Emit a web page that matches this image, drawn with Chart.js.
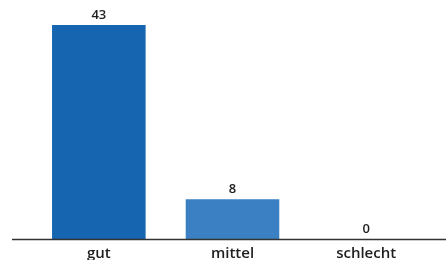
<!DOCTYPE html>
<html lang="de">
<head>
    <meta charset="UTF-8">
    <title>Bewertung</title>
    <style>
        body {
            margin: 0;
            background-color: #ffffff;
        }
        #wrap {
            width: 446px;
            height: 261px;
        }
    </style>
</head>
<body>
    <div id="wrap"><canvas id="chart"></canvas></div>

    <script src="https://cdn.jsdelivr.net/npm/chart.js"></script>
    <script>
        const categories = ['gut', 'mittel', 'schlecht'];
        const values = [43, 8, 0];
        const barColors = ['#1565b0', '#3b80c2', '#5a98d0'];

        // Werte über den Balken + durchgehende Grundlinie
        const extras = {
            id: 'extras',
            afterDatasetsDraw(chart) {
                const ctx = chart.ctx;
                const bottom = chart.chartArea.bottom;
                ctx.save();
                ctx.strokeStyle = '#333333';
                ctx.lineWidth = 1.5;
                ctx.beginPath();
                ctx.moveTo(12, bottom + 0.5);
                ctx.lineTo(chart.width, bottom + 0.5);
                ctx.stroke();

                ctx.fillStyle = '#1e1e1e';
                ctx.font = '600 13px "Open Sans", sans-serif';
                ctx.textAlign = 'center';
                ctx.textBaseline = 'bottom';
                chart.getDatasetMeta(0).data.forEach((bar, i) => {
                    ctx.fillText(values[i], bar.x, bar.y - 3);
                });
                ctx.restore();
            }
        };

        new Chart(document.getElementById('chart'), {
            type: 'bar',
            data: {
                labels: categories,
                datasets: [{
                    data: values,
                    backgroundColor: barColors,
                    categoryPercentage: 0.7,
                    barPercentage: 1.0
                }]
            },
            options: {
                responsive: true,
                maintainAspectRatio: false,
                animation: false,
                layout: {
                    padding: { left: 32, right: 13, top: 25, bottom: 1 }
                },
                plugins: {
                    legend: { display: false },
                    tooltip: { enabled: false }
                },
                scales: {
                    x: {
                        grid: { display: false },
                        border: { display: false },
                        ticks: {
                            color: '#1e1e1e',
                            padding: -1,
                            font: { family: '"Open Sans", sans-serif', size: 15, weight: '600', lineHeight: 1 }
                        }
                    },
                    y: {
                        display: false,
                        min: 0,
                        max: 43
                    }
                }
            },
            plugins: [extras]
        });
    </script>
</body>
</html>
